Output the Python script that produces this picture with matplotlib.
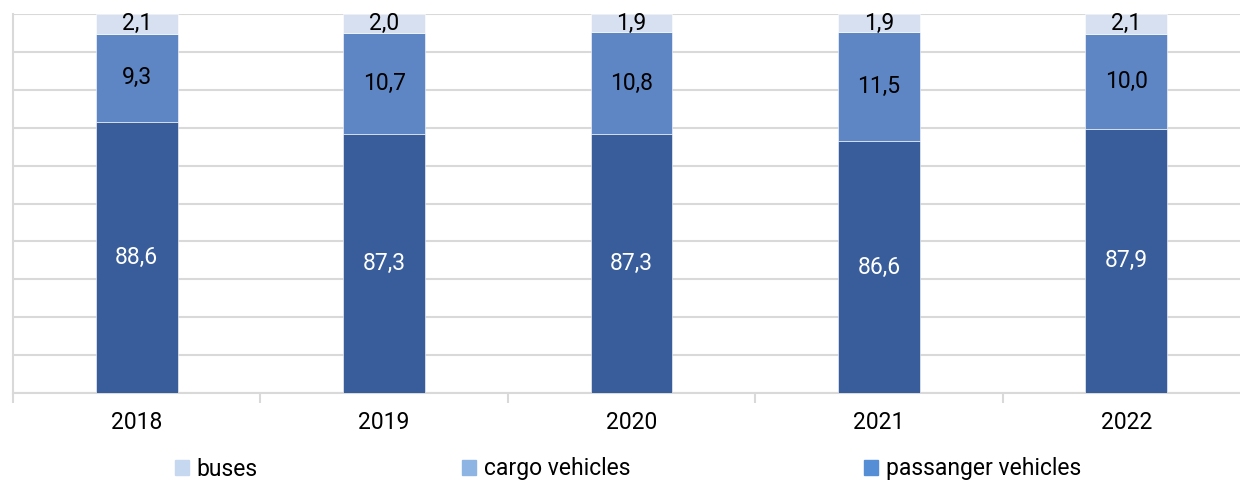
import matplotlib.pyplot as plt
import numpy as np
from matplotlib.patches import Patch

years = ['2018', '2019', '2020', '2021', '2022']
passenger = [88.6, 87.3, 87.3, 86.6, 87.9]
cargo = [9.3, 10.7, 10.8, 11.5, 10.0]
buses = [2.1, 2.0, 1.9, 1.9, 2.1]

plt.rcParams['font.family'] = ['Roboto', 'DejaVu Sans']

fig = plt.figure(figsize=(12.4, 4.8), dpi=100)
ax = fig.add_axes([13 / 1240, 1 - 393 / 480, 1237 / 1240, 379 / 480])

x = np.arange(len(years))
w = 0.33
grid_c = '#d9d9d9'
ymin, ymax = 60, 100
fs = 16.5

passenger = np.array(passenger)
cargo = np.array(cargo)
buses = np.array(buses)

ax.bar(x, passenger, w, color='#385d9a', edgecolor='white', linewidth=0.4, zorder=3)
ax.bar(x, cargo, w, bottom=passenger, color='#5e86c4', edgecolor='white', linewidth=0.4, zorder=3)
ax.bar(x, buses, w, bottom=passenger + cargo, color='#d6e0f0', edgecolor='white', linewidth=0.4, zorder=3)

def fmt(v):
    return f'{v:.1f}'.replace('.', ',')

# labels centred on the visible part of each segment
for i in range(len(years)):
    ax.text(x[i], (ymin + passenger[i]) / 2, fmt(passenger[i]), ha='center', va='center',
            color='white', fontsize=fs, zorder=4)
    ax.text(x[i], passenger[i] + cargo[i] / 2, fmt(cargo[i]), ha='center', va='center',
            color='black', fontsize=fs, zorder=4)
    ax.text(x[i], passenger[i] + cargo[i] + buses[i] / 2, fmt(buses[i]), ha='center', va='center',
            color='black', fontsize=fs, zorder=4)

ax.set_xlim(-0.5, 4.5)
ax.set_ylim(ymin, ymax)
ax.set_yticks(np.arange(ymin, ymax + 1, 4))
ax.set_yticklabels([])
ax.tick_params(axis='y', length=0)
ax.yaxis.grid(True, color=grid_c, linewidth=1.5, zorder=0)
ax.set_axisbelow(True)

ax.set_xticks(x)
ax.set_xticklabels(years, fontsize=fs)
ax.tick_params(axis='x', which='major', length=0, pad=13)
ax.set_xticks(np.arange(-0.5, 5, 1), minor=True)
ax.tick_params(axis='x', which='minor', length=7, width=1.5, color=grid_c)

for s in ['top', 'right']:
    ax.spines[s].set_visible(False)
for s in ['left', 'bottom']:
    ax.spines[s].set_color(grid_c)
    ax.spines[s].set_linewidth(1.5)

handles = [Patch(color='#c5d8f0', label='buses'),
           Patch(color='#8eb4e3', label='cargo vehicles'),
           Patch(color='#558ed5', label='passanger vehicles')]
leg_x = [175, 462, 864]
for h, lx in zip(handles, leg_x):
    fig.legend(handles=[h], loc='center left', bbox_to_anchor=(lx / 1240, 1 - 469 / 480),
               frameon=False, fontsize=fs, handlelength=0.6, handleheight=0.6,
               handletextpad=0.35, borderaxespad=0, borderpad=0)

fig.savefig('out.png', dpi=100)
